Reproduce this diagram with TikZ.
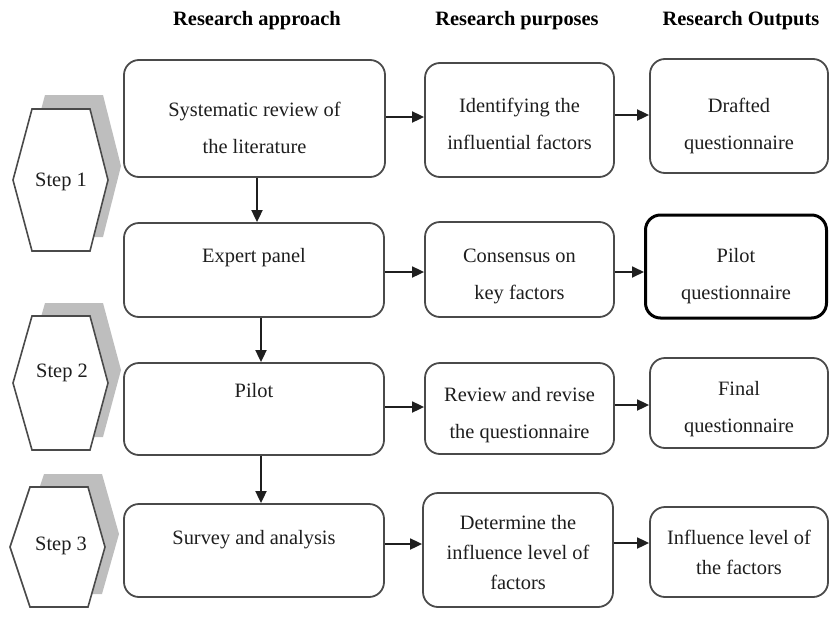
\documentclass[tikz,border=0pt]{standalone}
\usepackage{fontspec}
\setmainfont{Liberation Serif}
\usetikzlibrary{arrows.meta,calc}
\definecolor{boxgray}{HTML}{4A4A4A}
\definecolor{textgray}{HTML}{1E1E1E}
\definecolor{shadowgray}{HTML}{BEBEBE}
\newcommand{\dn}[1]{\rule{0pt}{\dimexpr 14pt+2\dimexpr #1pt\relax\relax}}
\begin{document}
\begin{tikzpicture}[x=1pt,y=-1pt,
  box/.style={draw=boxgray, line width=1.8pt, rounded corners=15pt, align=center,
    inner sep=0pt, font=\fontsize{20.4}{37}\selectfont, text=textgray, fill=white},
  tightbox/.style={box, font=\fontsize{20.4}{30}\selectfont},
  boldbox/.style={box, draw=black, line width=3pt},
  head/.style={font=\fontsize{20.4}{24}\selectfont\bfseries, text=black, inner sep=0pt},
  steptext/.style={font=\fontsize{20.4}{24}\selectfont, text=textgray, inner sep=0pt},
  hexa/.style={draw=boxgray, line width=1.6pt, fill=white, line join=miter},
  shadow/.style={fill=shadowgray},
  arr/.style={draw=black!88, line width=1.8pt, -{Triangle[length=12pt,width=11pt]}}
]
\useasboundingbox (0,0) rectangle (830,616);

% headers
\node[head] (h1) at (257,21) {Research approach};
\node[head] (h2) at (517,21) {Research purposes};
\node[head] (h3) at (741,21) {Research Outputs};

% step hexagons
\fill[shadow] (45,95) -- (103,95) -- (121,166) -- (103,237) -- (45,237) -- (26,166) -- cycle;
\draw[hexa] (32,109) -- (90,109) -- (108,180) -- (90,251) -- (32,251) -- (13,180) -- cycle;
\node[steptext] (s1) at (61,182) {Step 1};

\fill[shadow] (45,303) -- (103,303) -- (121,370) -- (103,437) -- (45,437) -- (26,370) -- cycle;
\draw[hexa] (32,316) -- (90,316) -- (108,383) -- (90,450) -- (32,450) -- (13,383) -- cycle;
\node[steptext] (s2) at (62,373) {Step 2};

\fill[shadow] (44,474) -- (102,474) -- (119,534) -- (102,594) -- (44,594) -- (24,534) -- cycle;
\draw[hexa] (30,487) -- (88,487) -- (105,547) -- (88,607) -- (30,607) -- (10,547) -- cycle;
\node[steptext] (s3) at (61,546) {Step 3};

% approach column
\node[box, minimum width=261pt, minimum height=117pt] (a1) at (254.5,118.5)
  {\dn{10}Systematic review of\\the literature};
\node[box, minimum width=260pt, minimum height=94pt] (a2) at (254,270)
  {\dn{4}Expert panel\\\phantom{x}};
\node[box, minimum width=260pt, minimum height=92pt] (a3) at (254,409)
  {Pilot\\\phantom{x}};
\node[box, minimum width=260pt, minimum height=93pt] (a4) at (254,550.5)
  {\dn{5}Survey and analysis\\\phantom{x}};

% purposes column
\node[box, minimum width=189pt, minimum height=114pt] (p1) at (519.5,120)
  {\dn{4}Identifying the\\influential factors};
\node[box, minimum width=189pt, minimum height=95pt] (p2) at (519.5,269.5)
  {\dn{7}Consensus on\\key factors};
\node[box, minimum width=189pt, minimum height=91pt] (p3) at (519.5,408.5)
  {\dn{7}Review and revise\\the questionnaire};
\node[tightbox, minimum width=190pt, minimum height=114pt] (p4) at (518,550)
  {\dn{3}Determine the\\influence level of\\factors};

% outputs column
\node[box, minimum width=178pt, minimum height=114pt] (o1) at (739,116)
  {\dn{10}Drafted\\questionnaire};
\node[boldbox, minimum width=181pt, minimum height=103pt] (o2) at (736,266.5)
  {\dn{10}Pilot\\questionnaire};
\node[box, minimum width=178pt, minimum height=90pt] (o3) at (739,403)
  {\dn{6.5}Final\\questionnaire};
\node[tightbox, minimum width=178pt, minimum height=90pt] (o4) at (739,552)
  {Influence level of\\the factors};

% vertical arrows
\draw[arr] ([xshift=2.5pt]a1.south) -- ([xshift=2.5pt]a1.south |- a2.north);
\draw[arr] ([xshift=7pt]a2.south) -- ([xshift=7pt]a2.south |- a3.north);
\draw[arr] ([xshift=7pt]a3.south) -- ([xshift=7pt]a3.south |- a4.north);

% approach -> purposes
\draw[arr] ([yshift=1.5pt]a1.east) -- ([yshift=1.5pt]a1.east -| p1.west);
\draw[arr] ([yshift=-2pt]a2.east) -- ([yshift=-2pt]a2.east -| p2.west);
\draw[arr] ([yshift=2pt]a3.east) -- ([yshift=2pt]a3.east -| p3.west);
\draw[arr] ([yshift=6.5pt]a4.east) -- ([yshift=6.5pt]a4.east -| p4.west);

% purposes -> outputs
\draw[arr] ([yshift=5pt]p1.east) -- ([yshift=5pt]p1.east -| o1.west);
\draw[arr] ([yshift=-2.5pt]p2.east) -- ([yshift=-2.5pt]p2.east -| o2.west);
\draw[arr] ([yshift=3.5pt]p3.east) -- ([yshift=3.5pt]p3.east -| o3.west);
\draw[arr] ([yshift=7pt]p4.east) -- ([yshift=7pt]p4.east -| o4.west);
\end{tikzpicture}
\end{document}
